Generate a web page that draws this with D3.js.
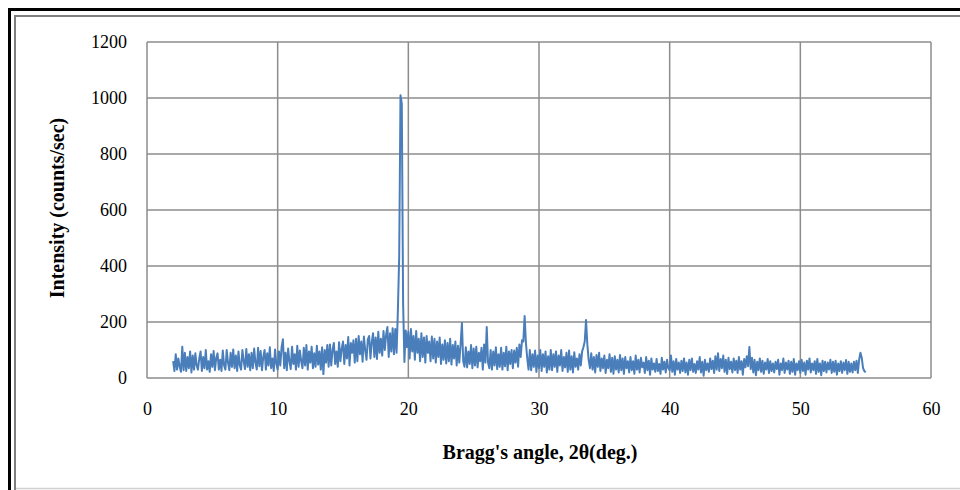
<!DOCTYPE html>
<html>
<head>
<meta charset="utf-8">
<script src="https://cdn.jsdelivr.net/npm/d3@7"></script>
<style>
  body { margin: 0; background: #fff; }
  svg { display: block; }
</style>
</head>
<body>
<div id="chart"></div>
<script>
const width = 960;
const height = 490;
const margin = { top: 42, right: 29, bottom: 112, left: 147 };

// Scan settings (2theta start, step in degrees)
const startAngle = 2.0;
const stepAngle = 0.1;

// Intensity, one line per degree (2.0 ... 54.9), then 55.0
const intensity = [
  60, 25, 85, 30, 70, 40, 22, 112, 28, 90,
  25, 75, 35, 95, 20, 80, 30, 88, 45, 30,
  70, 95, 25, 75, 35, 100, 30, 60, 22, 85,
  40, 96, 28, 72, 88, 30, 65, 25, 98, 45,
  30, 100, 55, 28, 90, 40, 102, 35, 80, 25,
  95, 45, 30, 100, 60, 32, 104, 40, 85, 28,
  90, 35, 105, 55, 30, 108, 42, 96, 28, 75,
  100, 30, 88, 45, 110, 35, 70, 25, 102, 50,
  30, 95, 45, 110, 138, 35, 90, 28, 105, 60,
  32, 112, 50, 85, 30, 115, 40, 98, 60, 35,
  108, 45, 118, 30, 95, 55, 112, 35, 88, 40,
  115, 48, 95, 30, 110, 14, 100, 55, 118, 40,
  120, 45, 100, 125, 50, 95, 40, 128, 60, 105,
  130, 50, 118, 70, 146, 45, 125, 90, 135, 55,
  140, 60, 150, 85, 130, 58, 148, 100, 65, 138,
  150, 70, 128, 160, 75, 145, 68, 165, 90, 140,
  80, 168, 100, 155, 182, 75, 160, 95, 178, 85,
  175, 90, 240, 432, 1010, 980, 268, 57, 170, 110,
  165, 70, 175, 95, 150, 65, 168, 90, 140, 60,
  160, 75, 145, 55, 150, 90, 130, 60, 148, 70,
  140, 55, 130, 75, 145, 50, 120, 65, 135, 52,
  125, 60, 140, 48, 118, 70, 130, 45, 115, 55,
  120, 196, 60, 40, 110, 38, 95, 50, 118, 35,
  105, 45, 112, 38, 90, 60, 108, 30, 120, 55,
  182, 55, 35, 100, 30, 95, 45, 110, 32, 85,
  40, 108, 30, 90, 42, 112, 28, 95, 50, 100,
  35, 98, 55, 108, 40, 120, 75, 135, 130, 221,
  125, 70, 30, 100, 28, 85, 40, 98, 22, 80,
  35, 100, 25, 85, 40, 95, 20, 78, 30, 100,
  28, 85, 40, 95, 22, 80, 45, 100, 25, 75,
  38, 90, 22, 98, 30, 78, 20, 92, 40, 70,
  30, 85, 45, 95, 110, 130, 207, 120, 65, 35,
  88, 30, 75, 20, 82, 40, 90, 25, 70, 35,
  80, 18, 65, 35, 85, 22, 72, 15, 78, 30,
  65, 20, 82, 28, 70, 15, 75, 35, 60, 20,
  75, 28, 60, 15, 80, 30, 65, 20, 72, 38,
  55, 18, 75, 28, 62, 12, 70, 30, 52, 22,
  68, 25, 50, 15, 72, 30, 58, 20, 65, 35,
  28, 80, 22, 60, 12, 68, 30, 55, 18, 62,
  25, 70, 20, 55, 12, 65, 28, 70, 22, 50,
  18, 60, 30, 75, 20, 58, 8, 65, 28, 52,
  22, 70, 32, 62, 18, 78, 30, 88, 25, 68,
  35, 80, 22, 65, 15, 72, 32, 58, 20, 70,
  28, 62, 18, 75, 30, 60, 12, 68, 38, 78,
  42, 111, 32, 72, 20, 65, 10, 58, 28, 70,
  22, 62, 15, 55, 30, 68, 18, 60, 25, 52,
  20, 58, 32, 65, 12, 52, 28, 70, 18, 55,
  30, 62, 15, 58, 22, 68, 12, 52, 28, 60,
  18, 65, 25, 55, 12, 62, 30, 70, 20, 52,
  28, 60, 15, 68, 22, 52, 10, 62, 25, 58,
  20, 55, 30, 65, 18, 58, 22, 62, 12, 52,
  25, 60, 18, 55, 28, 64, 15, 58, 22, 52,
  20, 58, 28, 62, 18, 65, 90, 72, 35, 25,
  20
];

const xTicks = [0, 10, 20, 30, 40, 50, 60];
const yTicks = [0, 200, 400, 600, 800, 1000, 1200];

const data = intensity.map((v, i) => ({ angle: startAngle + i * stepAngle, value: v }));

const serif = "'Liberation Serif', 'Times New Roman', serif";

const svg = d3.select("#chart")
  .append("svg")
  .attr("width", width)
  .attr("height", height);

// Frame: black outer border + grey inner border
svg.append("path")
  .attr("d", `M9.5,${height + 5} V9.5 H${width + 5}`)
  .attr("fill", "none")
  .attr("stroke", "#000")
  .attr("stroke-width", 3);

svg.append("path")
  .attr("d", `M15,${height + 5} V16 H${width + 5}`)
  .attr("fill", "none")
  .attr("stroke", "#7f7f7f")
  .attr("stroke-width", 2);

svg.append("line")
  .attr("x1", 16).attr("x2", width)
  .attr("y1", 488.5).attr("y2", 488.5)
  .attr("stroke", "#d0d0d0")
  .attr("stroke-width", 1.5);

const x = d3.scaleLinear()
  .domain([0, 60])
  .range([margin.left, width - margin.right]);

const y = d3.scaleLinear()
  .domain([0, 1200])
  .range([height - margin.bottom, margin.top]);

// Gridlines
svg.append("g")
  .selectAll("line")
  .data(yTicks)
  .join("line")
  .attr("x1", x(0)).attr("x2", x(60))
  .attr("y1", d => y(d)).attr("y2", d => y(d))
  .attr("stroke", "#8c8c8c")
  .attr("stroke-width", 1.5);

svg.append("g")
  .selectAll("line")
  .data(xTicks)
  .join("line")
  .attr("x1", d => x(d)).attr("x2", d => x(d))
  .attr("y1", y(0)).attr("y2", y(1200))
  .attr("stroke", "#8c8c8c")
  .attr("stroke-width", 1.5);

// Axes (labels only, Excel style)
const fmt = d3.format("d");

const xAxis = svg.append("g")
  .attr("transform", `translate(0,${y(0)})`)
  .call(d3.axisBottom(x).tickValues(xTicks).tickFormat(fmt).tickSize(0).tickPadding(24));

const yAxis = svg.append("g")
  .attr("transform", `translate(${x(0)},0)`)
  .call(d3.axisLeft(y).tickValues(yTicks).tickFormat(fmt).tickSize(0).tickPadding(20));

[xAxis, yAxis].forEach(g => {
  g.select(".domain").remove();
  g.selectAll("text")
    .attr("font-family", serif)
    .attr("font-size", "18px")
    .attr("fill", "#000");
});

// Series
const line = d3.line()
  .x(d => x(d.angle))
  .y(d => y(d.value));

svg.append("path")
  .datum(data)
  .attr("fill", "none")
  .attr("stroke", "#4a7ebb")
  .attr("stroke-width", 2)
  .attr("stroke-linejoin", "round")
  .attr("d", line);

// Axis titles
svg.append("text")
  .attr("x", 540)
  .attr("y", 459)
  .attr("text-anchor", "middle")
  .attr("font-family", serif)
  .attr("font-size", "20px")
  .attr("font-weight", "bold")
  .attr("fill", "#000")
  .text("Bragg's angle, 2θ(deg.)");

svg.append("text")
  .attr("transform", "rotate(-90)")
  .attr("x", -208)
  .attr("y", 64)
  .attr("text-anchor", "middle")
  .attr("font-family", serif)
  .attr("font-size", "20px")
  .attr("font-weight", "bold")
  .attr("fill", "#000")
  .text("Intensity (counts/sec)");
</script>
</body>
</html>
